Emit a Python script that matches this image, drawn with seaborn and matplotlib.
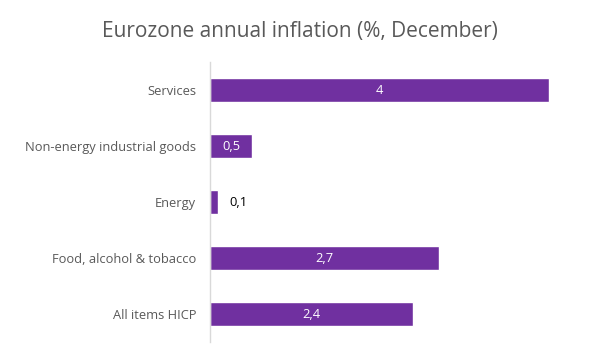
import matplotlib
matplotlib.use('Agg')
import matplotlib.pyplot as plt
import seaborn as sns
import pandas as pd

# --- data ---
categories = ['Services', 'Non-energy industrial goods', 'Energy',
              'Food, alcohol & tobacco', 'All items HICP']
values = [4.0, 0.5, 0.1, 2.7, 2.4]

BAR_COLOR = '#7030A0'
TEXT_GREY = '#595959'

sns.set_style('white')
plt.rcParams['font.family'] = ['Open Sans', 'DejaVu Sans']

df = pd.DataFrame({'category': categories, 'value': values})

fig = plt.figure(figsize=(5.99, 3.52), dpi=100)
ax = fig.add_axes([210 / 599, 10 / 352, 381 / 599, 280 / 352])

sns.barplot(data=df, x='value', y='category', order=categories,
            color=BAR_COLOR, saturation=1, width=0.42, ax=ax)

ax.set_xlim(0, 4.5)
ax.set_xlabel('')
ax.set_ylabel('')
ax.set_xticks([])
for side in ['top', 'right', 'bottom']:
    ax.spines[side].set_visible(False)
ax.spines['left'].set_color('#D9D9D9')
ax.spines['left'].set_linewidth(1)
ax.tick_params(axis='y', length=0, pad=10, labelsize=9.3, labelcolor=TEXT_GREY)

# value labels, comma decimals
for i, v in enumerate(values):
    txt = f'{v:g}'.replace('.', ',')
    if v < 0.3:
        ax.text(v + 0.13, i, txt, ha='left', va='center', fontsize=9.3, color='black')
    else:
        ax.text(v / 2, i, txt, ha='center', va='center', fontsize=9.3, color='white')

fig.text(0.5, 0.91, 'Eurozone annual inflation (%, December)', ha='center',
         va='center', fontsize=15, color=TEXT_GREY)

fig.savefig('out.png', dpi=100)
